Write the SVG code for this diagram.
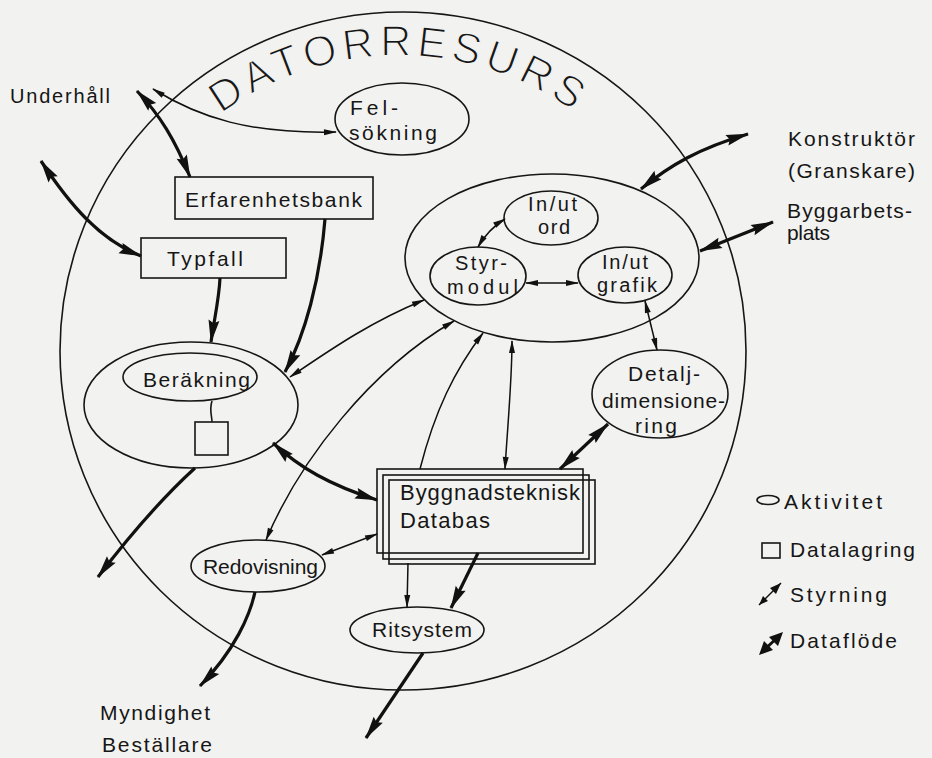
<svg xmlns="http://www.w3.org/2000/svg" width="932" height="758" viewBox="0 0 932 758">
<defs>
<style>
text{font-family:"Liberation Sans",Arial,sans-serif;fill:#161616}
.t{font-size:21px}
.t20{font-size:20px}
.t22{font-size:22px}
.big{font-size:43px;letter-spacing:5px;stroke:#f2f2f0;stroke-width:1.4px}
.n{fill:none;stroke:#161616;stroke-width:1.6}
.df{fill:none;stroke:#111;stroke-width:3.2;marker-end:url(#hk)}
.dfb{marker-start:url(#hk)}
.st{fill:none;stroke:#111;stroke-width:1.5;marker-end:url(#hs)}
.stb{marker-start:url(#hs)}
</style>
<marker id="hk" viewBox="-24 -7 26 14" refX="0" refY="0" markerWidth="26" markerHeight="14" markerUnits="userSpaceOnUse" orient="auto-start-reverse">
<path d="M1,0 L-22,-5.5 L-19,0 L-22,5.5 Z" fill="#111"/>
</marker>
<marker id="hs" viewBox="-14 -4 16 8" refX="0" refY="0" markerWidth="16" markerHeight="8" markerUnits="userSpaceOnUse" orient="auto-start-reverse">
<path d="M1,0 L-12,-3 L-12,3 Z" fill="#111"/>
</marker>
<path id="arcText" d="M206,126 A300,300 0 0 1 592,126"/>
</defs>
<rect width="932" height="758" fill="#f2f2f0"/>

<g id="datorresurs">
<ellipse cx="403" cy="351" rx="343" ry="339" class="n"/>
<text class="big" text-anchor="middle"><textPath href="#arcText" startOffset="50%">DATORRESURS</textPath></text>
</g>

<g id="underhall"><text class="t20" x="10" y="103" textLength="100">Underhåll</text></g>

<g id="felsokning">
<ellipse cx="402" cy="119" rx="67" ry="36" class="n"/>
<text class="t" x="350" y="115" textLength="48">Fel-</text>
<text class="t" x="349" y="140" textLength="88">sökning</text>
</g>

<g id="erfarenhetsbank">
<rect x="175" y="177" width="198" height="42" class="n"/>
<text class="t" x="185" y="207" textLength="177">Erfarenhetsbank</text>
</g>

<g id="typfall">
<rect x="141" y="238" width="145" height="40" class="n"/>
<text class="t" x="167" y="266" textLength="76">Typfall</text>
</g>

<g id="styrsystem">
<ellipse cx="552" cy="258" rx="147" ry="84" class="n"/>
</g>
<g id="inut-ord">
<ellipse cx="551" cy="218" rx="47" ry="27" class="n"/>
<text class="t20" x="528" y="211" textLength="49">In/ut</text>
<text class="t20" x="538" y="234" textLength="32">ord</text>
</g>
<g id="styrmodul">
<ellipse cx="478" cy="276" rx="48" ry="29" class="n"/>
<text class="t20" x="455" y="270" textLength="52">Styr-</text>
<text class="t20" x="447" y="294" textLength="71">modul</text>
</g>
<g id="inut-grafik">
<ellipse cx="625" cy="275" rx="47" ry="28" class="n"/>
<text class="t20" x="602" y="269" textLength="46">In/ut</text>
<text class="t20" x="597" y="292" textLength="60">grafik</text>
</g>

<g id="detaljdim">
<ellipse cx="660" cy="394" rx="68" ry="44" class="n"/>
<text class="t" x="628" y="381" textLength="72">Detalj-</text>
<text class="t" x="602" y="408" textLength="123">dimensione-</text>
<text class="t" x="635" y="433" textLength="42">ring</text>
</g>

<g id="berakning">
<ellipse cx="191" cy="405" rx="107" ry="63" class="n"/>
<ellipse cx="190" cy="377" rx="67" ry="24" class="n"/>
<text class="t" x="143" y="387" textLength="107">Beräkning</text>
<path d="M212,401 C209,410 212,416 212,422" class="n"/>
<rect x="195" y="422" width="33" height="33" class="n"/>
</g>

<g id="redovisning">
<ellipse cx="258" cy="566" rx="67" ry="26" class="n"/>
<text class="t" x="203" y="574" textLength="115">Redovisning</text>
</g>

<g id="databas">
<rect x="389" y="480" width="206" height="84" class="n" fill="#f2f2f0"/>
<rect x="383" y="475" width="206" height="84" class="n" fill="#f2f2f0"/>
<rect x="377" y="469" width="206" height="84" class="n" fill="#f2f2f0"/>
<text class="t22" x="400" y="500" textLength="180">Byggnadsteknisk</text>
<text class="t22" x="400" y="528" textLength="90">Databas</text>
</g>

<g id="ritsystem">
<ellipse cx="417" cy="630" rx="67" ry="23" class="n"/>
<text class="t" x="372" y="637" textLength="100">Ritsystem</text>
</g>

<g id="konstruktor">
<text class="t" x="788" y="146" textLength="127">Konstruktör</text>
<text class="t" x="788" y="178" textLength="127">(Granskare)</text>
</g>
<g id="byggarbetsplats">
<text class="t" x="787" y="218" textLength="125">Byggarbets-</text>
<text class="t" x="787" y="240" textLength="43">plats</text>
</g>
<g id="myndighet">
<text class="t" x="100" y="720" textLength="110">Myndighet</text>
<text class="t" x="102" y="752" textLength="110">Beställare</text>
</g>

<g id="connectors">
<path d="M137,91 C160,115 175,140 190,177" class="df dfb"/>
<path d="M41,161 C70,205 100,240 141,256" class="df dfb"/>
<path d="M220,278 C219,300 214,320 211,342" class="df"/>
<path d="M325,219 C320,280 305,335 285,372" class="df"/>
<path d="M608,424 L560,469" class="df dfb"/>
<path d="M273,443 C300,468 330,485 377,500" class="df dfb"/>
<path d="M478,553 L451,608" class="df"/>
<path d="M423,653 L366,738" class="df"/>
<path d="M255,592 C250,615 235,650 200,686" class="df"/>
<path d="M195,468 C160,500 130,535 98,577" class="df"/>
<path d="M641,189 C670,165 700,148 748,134" class="df dfb"/>
<path d="M700,251 L773,222" class="df dfb"/>

<path d="M153,89 C200,118 250,134 336,132" class="st stb"/>
<path d="M290,377 C330,350 370,322 424,300" class="st stb"/>
<path d="M266,540 C300,460 370,370 454,321" class="st stb"/>
<path d="M420,469 C435,410 455,370 483,333" class="st"/>
<path d="M505,469 C508,420 512,380 512,341" class="st stb"/>
<path d="M645,301 L657,350" class="st stb"/>
<path d="M322,555 L377,534" class="st stb"/>
<path d="M408,563 L407,607" class="st"/>
<path d="M478,247 C485,235 495,225 505,219" class="st stb"/>
<path d="M526,283 L578,283" class="st stb"/>
</g>

<g id="legend">
<ellipse cx="768" cy="500" rx="11" ry="4.5" class="n"/>
<text class="t" x="784" y="509" textLength="98">Aktivitet</text>
<rect x="762" y="543" width="18" height="15" class="n"/>
<text class="t" x="790" y="557" textLength="125">Datalagring</text>
<path d="M759,605 L781,583" stroke="#111" stroke-width="1.5"/>
<path d="M781,583 L770,588 L776,594 Z M759,605 L763,596 L768,601 Z" fill="#111"/>
<text class="t" x="790" y="602" textLength="97">Styrning</text>
<path d="M762,652 L780,635" stroke="#111" stroke-width="3"/>
<path d="M783,632 L769,637 L778,646 Z M759,655 L764,641 L773,650 Z" fill="#111"/>
<text class="t" x="790" y="648" textLength="107">Dataflöde</text>
</g>
</svg>
